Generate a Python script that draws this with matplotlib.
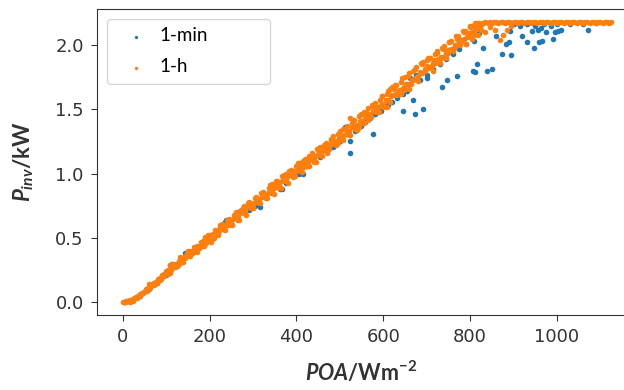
import matplotlib
matplotlib.use("Agg")
import matplotlib.pyplot as plt

# inverter power vs plane-of-array irradiance

# 1-min data: points along the curve
poa_1min = [5, 20, 40, 60, 80, 100, 108, 113, 125, 143, 160, 175, 190, 205, 220,
            224, 235, 239, 250, 265, 270, 274, 290, 305, 316, 330, 345, 362, 367,
            375, 392, 405, 415, 424, 440, 455, 470, 485, 500, 511, 523, 535, 548,
            553, 558, 570, 582, 595, 610, 620, 632, 645, 661, 675, 685, 700, 715,
            730, 745, 760, 775, 790, 805, 820]
p_1min = [0.00, 0.01, 0.05, 0.10, 0.15, 0.21, 0.29, 0.30, 0.28, 0.38, 0.38, 0.42,
          0.46, 0.49, 0.53, 0.58, 0.62, 0.64, 0.61, 0.64, 0.71, 0.71, 0.72, 0.75,
          0.74, 0.81, 0.85, 0.88, 0.88, 0.93, 1.02, 1.00, 1.00, 1.06, 1.10, 1.13,
          1.17, 1.21, 1.25, 1.36, 1.25, 1.33, 1.37, 1.39, 1.40, 1.43, 1.46, 1.49,
          1.53, 1.56, 1.59, 1.62, 1.74, 1.77, 1.73, 1.77, 1.81, 1.85, 1.89, 1.93,
          1.97, 2.01, 2.05, 2.09]

# 1-min data: points that drop below the curve and the clipped tail
poa_1min_out = [523, 576, 645, 654, 668, 673, 691, 700, 735, 746, 769, 806, 808,
                812, 815, 829, 838, 850, 860, 873, 882, 890, 892, 894, 919, 931,
                942, 947, 956, 958, 963, 965, 975, 991, 995, 1003, 1010, 1071,
                900, 915, 930, 950, 970, 985, 1000, 1030, 1060, 1090]
p_1min_out = [1.16, 1.31, 1.49, 1.64, 1.57, 1.46, 1.50, 1.74, 1.67, 1.73, 1.76,
              1.80, 2.03, 1.79, 1.85, 1.98, 1.80, 1.81, 2.07, 1.93, 2.01, 2.02,
              2.11, 1.92, 2.07, 2.02, 2.11, 1.98, 2.12, 2.02, 2.13, 2.03, 2.10,
              2.05, 2.10, 2.11, 2.12, 2.12, 2.16, 2.15, 2.16, 2.15, 2.16, 2.15,
              2.16, 2.16, 2.16, 2.17]

# 1-h data: main band
poa_1h = [0, 3, 6, 10, 14, 18, 22, 26, 31, 35, 40, 44, 49, 53, 58, 63, 67, 72, 77,
          81, 86, 91, 95, 100, 105, 110, 114, 119, 124, 129, 133, 138, 143, 148,
          153, 158, 162, 167, 172, 177, 182, 187, 192, 197, 202, 207, 212, 217,
          222, 228, 233, 238, 243, 249, 254, 259, 265, 270, 276, 281, 287, 292,
          298, 303, 309, 315, 320, 326, 332, 337, 343, 349, 355, 361, 366, 372,
          378, 384, 390, 396, 402, 408, 414, 420, 426, 432, 438, 444, 450, 456,
          462, 468, 474, 480, 486, 492, 498, 504, 510, 516, 522, 528, 534, 540,
          546, 552, 558, 564, 570, 576, 582, 588, 594, 600, 606, 612, 618, 624,
          630, 636, 642, 648, 654, 660, 666, 672, 678, 684, 690, 696, 702, 708,
          714, 720, 726, 732, 738, 744, 750, 756, 762, 768, 774, 780, 786, 792,
          798, 804, 810, 816, 822, 828]
p_1h = [0.00, 0.00, 0.00, 0.01, 0.01, 0.02, 0.02, 0.03, 0.04, 0.05, 0.06, 0.07,
        0.08, 0.10, 0.11, 0.12, 0.14, 0.15, 0.16, 0.18, 0.19, 0.21, 0.22, 0.23,
        0.25, 0.26, 0.27, 0.29, 0.30, 0.32, 0.32, 0.34, 0.36, 0.36, 0.38, 0.40,
        0.40, 0.42, 0.44, 0.44, 0.46, 0.48, 0.48, 0.50, 0.52, 0.51, 0.54, 0.55,
        0.55, 0.58, 0.59, 0.60, 0.62, 0.62, 0.65, 0.66, 0.66, 0.69, 0.71, 0.71,
        0.74, 0.74, 0.76, 0.77, 0.79, 0.80, 0.82, 0.84, 0.84, 0.86, 0.88, 0.89,
        0.91, 0.92, 0.94, 0.95, 0.97, 0.99, 0.99, 1.02, 1.03, 1.04, 1.07, 1.07,
        1.09, 1.11, 1.12, 1.14, 1.15, 1.17, 1.18, 1.20, 1.21, 1.23, 1.25, 1.25,
        1.28, 1.29, 1.30, 1.33, 1.33, 1.36, 1.37, 1.38, 1.41, 1.41, 1.44, 1.45,
        1.46, 1.49, 1.49, 1.52, 1.53, 1.54, 1.57, 1.57, 1.60, 1.61, 1.62, 1.65,
        1.66, 1.67, 1.70, 1.70, 1.73, 1.74, 1.75, 1.78, 1.78, 1.81, 1.82, 1.83,
        1.86, 1.86, 1.89, 1.90, 1.91, 1.94, 1.94, 1.97, 1.98, 1.99, 2.02, 2.02,
        2.05, 2.06, 2.07, 2.10, 2.10, 2.13, 2.14, 2.16]

# 1-h data: second pass through the band (it is thick in the picture)
poa_1h_b = [8, 16, 24, 32, 40, 48, 56, 64, 72, 80, 88, 96, 104, 112, 120, 128,
            136, 144, 152, 160, 168, 176, 184, 192, 200, 208, 216, 224, 232, 240,
            248, 256, 264, 272, 280, 288, 296, 304, 312, 320, 328, 336, 344, 352,
            360, 368, 376, 384, 392, 400, 408, 416, 424, 432, 440, 448, 456, 464,
            472, 480, 488, 496, 504, 512, 520, 528, 536, 544, 552, 560, 568, 576,
            584, 592, 600, 608, 616, 624, 632, 640, 648, 656, 664, 672, 680, 688,
            696, 704, 712, 720, 728, 736, 744, 752, 760, 768, 776, 784, 792, 800,
            808, 816, 824]
p_1h_b = [0.01, 0.00, 0.01, 0.03, 0.05, 0.07, 0.09, 0.11, 0.13, 0.15, 0.18, 0.20,
          0.22, 0.25, 0.27, 0.29, 0.31, 0.34, 0.36, 0.38, 0.40, 0.42, 0.44, 0.46,
          0.50, 0.53, 0.53, 0.59, 0.57, 0.64, 0.61, 0.68, 0.65, 0.72, 0.69, 0.77,
          0.73, 0.81, 0.78, 0.85, 0.82, 0.89, 0.86, 0.94, 0.90, 0.98, 0.94, 1.02,
          0.99, 1.06, 1.02, 1.10, 1.06, 1.14, 1.11, 1.19, 1.14, 1.22, 1.19, 1.26,
          1.23, 1.31, 1.27, 1.35, 1.31, 1.39, 1.35, 1.45, 1.39, 1.48, 1.44, 1.52,
          1.48, 1.57, 1.52, 1.62, 1.56, 1.66, 1.61, 1.71, 1.65, 1.76, 1.70, 1.81,
          1.76, 1.86, 1.80, 1.90, 1.84, 1.93, 1.88, 1.98, 1.92, 2.02, 1.97, 2.07,
          2.01, 2.11, 2.06, 2.15, 2.08, 2.17, 2.12]

# 1-h data: third pass, the ragged edges of the band
poa_1h_c = [4, 12, 20, 28, 36, 44, 52, 60, 68, 76, 84, 92, 100, 108, 116, 124,
            132, 140, 148, 156, 164, 172, 180, 188, 196, 204, 212, 220, 228, 236,
            244, 252, 260, 268, 276, 284, 292, 300, 308, 316, 324, 332, 340, 348,
            356, 364, 372, 380, 388, 396, 404, 412, 420, 428, 436, 444, 452, 460,
            468, 476, 484, 492, 500, 508, 516, 524, 532, 540, 548, 556, 564, 572,
            580, 588, 596, 604, 612, 620, 628, 636, 644, 652, 660, 668, 676, 684,
            692, 700, 708, 716, 724, 732, 740, 748, 756, 764, 772, 780, 788, 796,
            804, 812, 820]
p_1h_c = [0.00, 0.01, 0.02, 0.03, 0.05, 0.07, 0.09, 0.12, 0.14, 0.16, 0.18, 0.21,
          0.24, 0.23, 0.30, 0.28, 0.35, 0.31, 0.38, 0.36, 0.43, 0.39, 0.47, 0.44,
          0.52, 0.47, 0.56, 0.52, 0.61, 0.56, 0.65, 0.60, 0.69, 0.64, 0.73, 0.68,
          0.78, 0.73, 0.82, 0.77, 0.86, 0.81, 0.91, 0.84, 0.94, 0.89, 0.99, 0.93,
          1.03, 0.98, 1.08, 1.01, 1.11, 1.06, 1.16, 1.09, 1.20, 1.14, 1.24, 1.19,
          1.29, 1.22, 1.33, 1.26, 1.37, 1.30, 1.42, 1.34, 1.46, 1.39, 1.51, 1.44,
          1.55, 1.48, 1.60, 1.52, 1.64, 1.61, 1.69, 1.62, 1.74, 1.70, 1.78, 1.73,
          1.83, 1.79, 1.87, 1.84, 1.90, 1.88, 1.95, 1.91, 1.99, 1.96, 2.03, 2.00,
          2.07, 2.04, 2.11, 2.09, 2.15, 2.13, 2.17]

# 1-h data: points either side of the band
poa_1h_spread = [60, 85, 110, 130, 150, 165, 190, 210, 225, 245, 262, 280, 300,
                 318, 330, 345, 360, 375, 392, 405, 418, 428, 440, 455, 470, 480,
                 495, 508, 520, 523, 530, 545, 555, 565, 575, 590, 598, 608, 615,
                 620, 630, 640, 650, 660, 668, 680, 690, 700, 707, 715, 723, 730,
                 737, 745, 752, 760, 769, 776, 785, 790, 800, 805, 812, 818, 826,
                 835, 845, 858, 868, 876, 885, 895]
p_1h_spread = [0.14, 0.17, 0.29, 0.30, 0.40, 0.39, 0.51, 0.50, 0.60, 0.60, 0.70,
               0.75, 0.73, 0.85, 0.82, 0.92, 0.89, 1.00, 0.97, 1.08, 1.05, 1.14,
               1.09, 1.21, 1.16, 1.27, 1.24, 1.35, 1.30, 1.43, 1.42, 1.36, 1.48,
               1.42, 1.53, 1.48, 1.60, 1.52, 1.66, 1.67, 1.69, 1.62, 1.75, 1.66,
               1.80, 1.72, 1.85, 1.88, 1.90, 1.80, 1.94, 1.86, 1.97, 1.90, 2.02,
               1.95, 2.05, 2.00, 2.10, 2.01, 2.14, 2.05, 2.17, 2.08, 2.12, 2.10,
               2.14, 2.12, 2.04, 2.08, 2.12, 2.15]

# 1-h data: inverter clipping plateau
poa_1h_clip = [830, 835, 840, 845, 850, 855, 860, 865, 870, 875, 880, 885, 890,
               895, 900, 905, 910, 915, 920, 925, 930, 935, 940, 945, 950, 955,
               960, 965, 970, 975, 980, 985, 990, 995, 1000, 1005, 1010, 1015,
               1020, 1025, 1030, 1035, 1040, 1045, 1050, 1055, 1060, 1065, 1070,
               1075, 1080, 1085, 1090, 1095, 1100, 1105, 1110, 1115, 1120, 1125]
p_1h_clip = [2.17, 2.18, 2.17, 2.18, 2.17, 2.18, 2.18, 2.17, 2.18, 2.18, 2.17,
             2.18, 2.18, 2.17, 2.18, 2.18, 2.17, 2.18, 2.18, 2.17, 2.18, 2.18,
             2.17, 2.18, 2.18, 2.17, 2.18, 2.18, 2.17, 2.18, 2.18, 2.17, 2.18,
             2.18, 2.17, 2.18, 2.18, 2.17, 2.18, 2.18, 2.17, 2.18, 2.18, 2.17,
             2.18, 2.18, 2.17, 2.18, 2.18, 2.17, 2.18, 2.18, 2.17, 2.18, 2.18,
             2.17, 2.18, 2.18, 2.17, 2.18]

plt.rcParams['mathtext.fontset'] = 'custom'
plt.rcParams['mathtext.it'] = 'Lato:italic:bold'
plt.rcParams['mathtext.rm'] = 'Lato:bold'
plt.rcParams['mathtext.bf'] = 'Lato:bold'

fig = plt.figure(figsize=(6.24, 3.9), dpi=100)
# right edge sits past the figure, as in the cropped original
ax = fig.add_axes([97 / 624, 75 / 390, 543 / 624, 306 / 390])

blue = '#1f77b4'
orange = '#ff7f0e'
ax.scatter(poa_1min + poa_1min_out, p_1min + p_1min_out, s=16, color=blue,
           linewidths=0, label='1-min', zorder=2)
ax.scatter(poa_1h + poa_1h_b + poa_1h_c + poa_1h_spread + poa_1h_clip,
           p_1h + p_1h_b + p_1h_c + p_1h_spread + p_1h_clip,
           s=16, color=orange, linewidths=0, label='1-h', zorder=3)

ax.set_xlim(-59, 1191)
ax.set_ylim(-0.10, 2.28)
ax.set_xticks([0, 200, 400, 600, 800, 1000])
ax.set_yticks([0.0, 0.5, 1.0, 1.5, 2.0])
ax.set_yticklabels(['0.0', '0.5', '1.0', '1.5', '2.0'])
ax.tick_params(labelsize=13, colors='#333333', length=4.5, pad=5)
for sp in ax.spines.values():
    sp.set_color('#333333')

ax.set_xlabel(r'$POA$/Wm$^{-2}$', fontsize=15.5, fontfamily='Lato',
              fontweight='bold', color='#333333')
ax.xaxis.set_label_coords((361 - 97) / 543, -0.145)
ax.set_ylabel(r'$P_{inv}$/kW', fontsize=16, fontfamily='Lato',
              fontweight='bold', color='#333333', labelpad=14)

leg = ax.legend(loc='upper left', bbox_to_anchor=(10 / 543, 1 - 10 / 306, 163 / 543, 0),
                mode='expand', borderaxespad=0, prop={'family': 'Lato', 'size': 13.5},
                scatterpoints=1, markerscale=0.6, handlelength=2.2,
                handletextpad=0.15, borderpad=0.45, labelspacing=0.75,
                fancybox=True, framealpha=0.8, edgecolor='#cccccc')

fig.savefig('out.png', dpi=100)
